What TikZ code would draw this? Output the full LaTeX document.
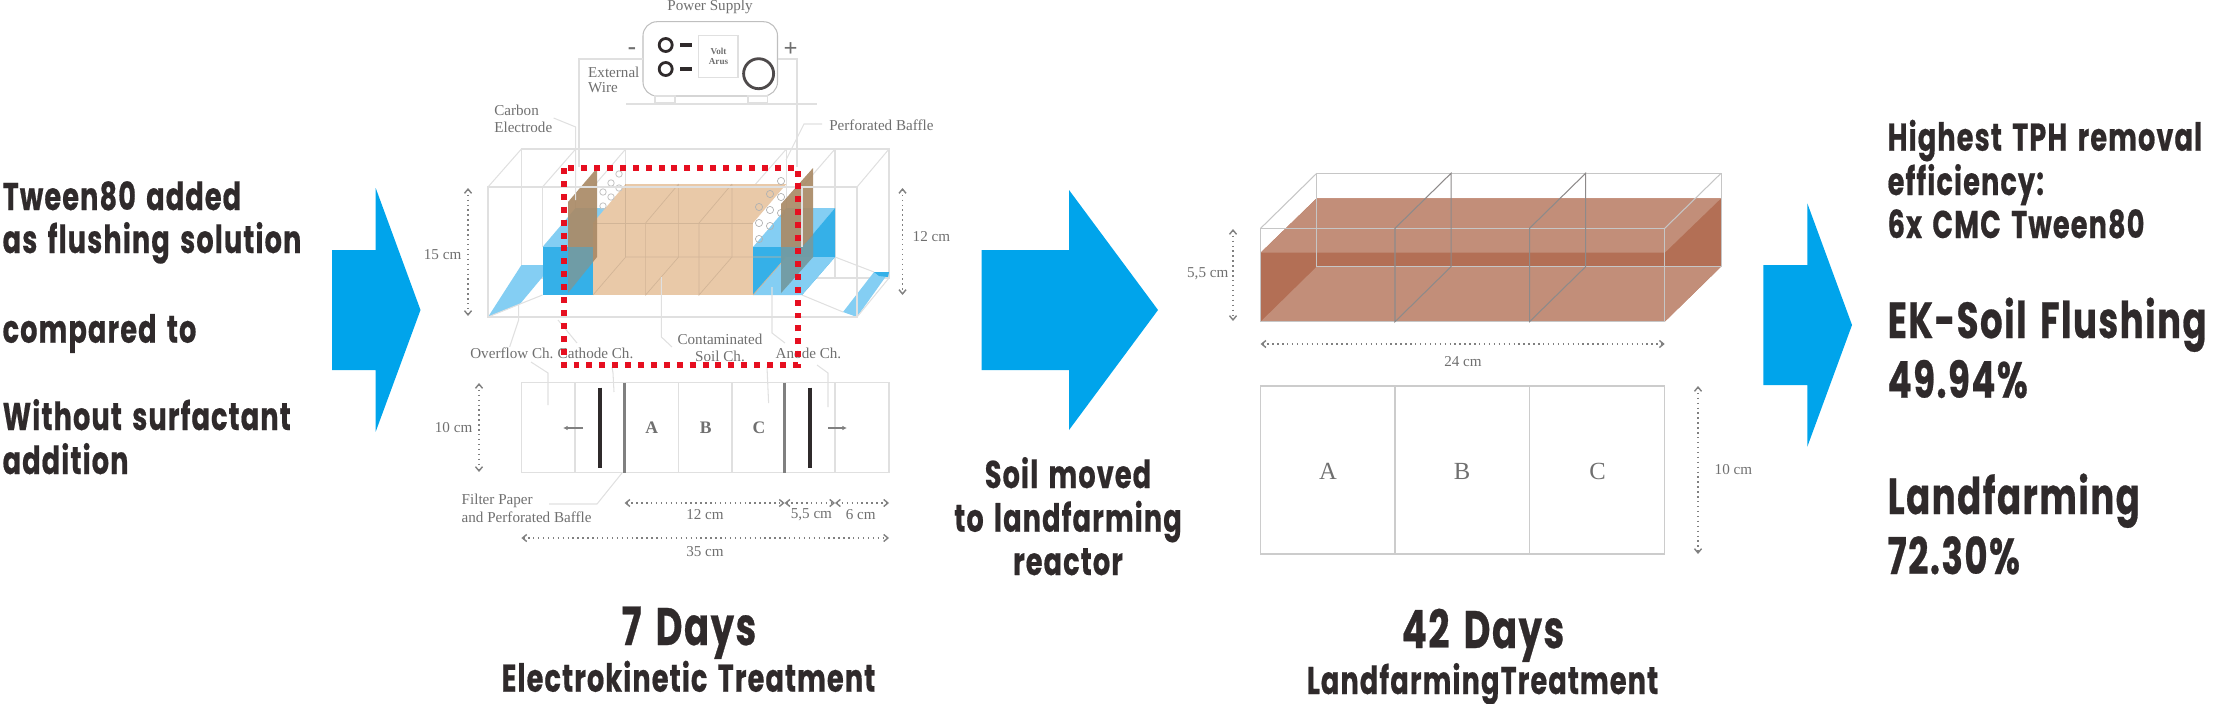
\documentclass[tikz,border=0pt]{standalone}
\usepackage{fontspec}
\usepackage{xcolor}
\usetikzlibrary{arrows.meta,positioning,calc}
\setmainfont{Liberation Serif}
\newfontfamily\headfont[FakeStretch=0.7,LetterSpace=3,FakeBold=0.5,WordSpace=1.5]{Poppins}
\definecolor{arrowblue}{HTML}{00A4EB}
\definecolor{inkdark}{HTML}{2F2A2B}
\definecolor{waterdeep}{HTML}{35B0E8}
\definecolor{waterpale}{HTML}{84CEF3}
\definecolor{soiltan}{HTML}{E9C9A8}
\definecolor{baffletan}{HTML}{A98A66}
\definecolor{mudpale}{HTML}{C28E79}
\definecolor{muddeep}{HTML}{B36F55}
\definecolor{labelgray}{HTML}{6F6F6F}
\definecolor{frameline}{HTML}{E0E0E0}
\definecolor{dotred}{HTML}{E60F20}
\tikzset{
  headtext/.style={anchor=base west,text=inkdark,inner sep=0pt,font=\headfont\bfseries\fontsize{11}{13}\selectfont},
  bigtext/.style={headtext,font=\headfont\bfseries\fontsize{14.4}{16}\selectfont},
  daytext/.style={headtext,anchor=base,font=\headfont\bfseries\fontsize{15}{16}\selectfont},
  smalllabel/.style={text=labelgray,inner sep=0pt,font=\fontsize{4.3}{5}\selectfont},
  letterlabel/.style={text=labelgray,inner sep=0pt,font=\fontsize{7}{8}\selectfont},
  planletter/.style={letterlabel,font=\bfseries\fontsize{5}{6}\selectfont},
  frame/.style={draw=frameline,line width=0.3pt},
  leader/.style={draw=frameline,line width=0.3pt},
  dimline/.style={draw=gray,densely dotted,line width=0.4pt,{Straight Barb[length=1.2pt,width=2pt]}-{Straight Barb[length=1.2pt,width=2pt]}},
  bigarrow/.style={fill=arrowblue,draw=none}
}
\begin{document}
\begin{tikzpicture}[x=0.01cm,y=-0.01cm]
\useasboundingbox (0,0) rectangle (2213,703);
% blue arrows
\fill[bigarrow] (332,250)--(375.7,250)--(375.7,188)--(420.5,310)--(375.7,431.7)--(375.7,370)--(332,370)--cycle;
\fill[bigarrow] (981.7,250)--(1069,250)--(1069,190)--(1158,310)--(1069,430)--(1069,370)--(981.7,370)--cycle;
\fill[bigarrow] (1763.3,265)--(1807.3,265)--(1807.3,203.3)--(1852,325)--(1807.3,446.7)--(1807.3,385)--(1763.3,385)--cycle;
% left text
\node[headtext] (flush1) at (2,210) {Tween80 added};
\node[headtext] (flush2) at (2,253) {as flushing solution};
\node[headtext] (comp) at (2,342.7) {compared to};
\node[headtext] (without1) at (2,430) {Without surfactant};
\node[headtext] (without2) at (2,474) {addition};
% power supply
\draw[frame,draw=gray!50,rounded corners=4] (643,21.7) rectangle (777.5,96);
\draw[frame] (655,96) rectangle (675,103);
\draw[frame] (748,96) rectangle (767.5,103);
\draw[frame] (626,104)--(817,104);
\draw[frame] (698.6,35.7) rectangle (738,77.7);
\foreach \y in {45,69} {
  \draw[inkdark,line width=0.8pt] (665.7,\y) circle[radius=6.5];
  \draw[inkdark,line width=1.1pt] (680,\y)--(692,\y);
}
\draw[inkdark!85,line width=0.8pt] (758.6,73.7) circle[radius=15];
\node[smalllabel,font=\bfseries\fontsize{2.6}{3}\selectfont] (volt) at (718.5,51) {Volt};
\node[smalllabel,font=\bfseries\fontsize{2.6}{3}\selectfont] (amps) at (718.5,62) {Arus};
\node[text=labelgray,font=\fontsize{7}{8}\bfseries\selectfont,inner sep=0pt] (minus) at (632,51) {-};
\node[text=labelgray,font=\fontsize{7}{8}\bfseries\selectfont,inner sep=0pt] (plus) at (790.7,49.5) {+};
\node[smalllabel] (supply) at (710,7) {Power Supply};
\node[smalllabel,anchor=west] (wire1) at (587.5,72) {External};
\node[smalllabel,anchor=west] (wire2) at (587.5,88) {Wire};
\draw[leader] (643,59)--(579,59)--(579,167);
\draw[leader] (777.5,59)--(797,59)--(797,167);
% reactor outline behind the water
\draw[frame] (521.4,149) rectangle (889,278);
\foreach \xb/\xf in {575.7/542.5,625.7/593,786.4/753,835/802} {
  \draw[frame] (\xb,149)--(\xb,278);
  \draw[frame] (\xb,149)--(\xf,187);
}
% overflow troughs
\fill[waterpale] (488,317)--(521.4,265)--(552.5,265)--(520,304)--cycle;
\fill[waterpale] (843,312)--(874,272)--(889,272)--(857,317)--cycle;
\fill[waterdeep] (874,272)--(889,272)--(888,277)--(879,276)--cycle;
\draw[frame] (488,317)--(520,304)--(542.5,295);
\draw[frame] (802,295)--(843,312);
\draw[frame] (835,257)--(874,272);
% water
\fill[waterpale] (542.5,247)--(575.7,208)--(625.7,208)--(593,247)--cycle;
\fill[waterdeep] (542.5,247) rectangle (593,295);
\fill[waterpale] (753,247)--(786.4,208)--(835,208)--(802,247)--cycle;
\fill[waterdeep] (802,247)--(835,208)--(835,257)--(802,295)--cycle;
\fill[waterdeep] (753,247) rectangle (802,295);
\fill[waterpale] (753,295)--(786.4,257)--(835,257)--(802,295)--cycle;
% soil block
\fill[soiltan] (593,223)--(625.7,184)--(786.4,184)--(753,223)--cycle;
\fill[soiltan] (593,223) rectangle (753,295);
\draw[soiltan!90!black,line width=0.2pt] (593,295)--(625.7,257)--(786.4,257)--(753,295);
\draw[soiltan!90!black,line width=0.2pt] (625.7,184)--(625.7,257);
\draw[soiltan!90!black,line width=0.2pt] (593,223)--(753,223);
\foreach \xb/\xf in {678.6/645.6,732/699} {
  \draw[soiltan!90!black,line width=0.2pt] (\xb,184)--(\xb,257)--(\xf,295)--(\xf,223)--(\xb,184);
}
% perforated baffles
\foreach \xo/\yo in {0/0,8/-9,16/-18,0/14,8/5,16/-4} {
  \draw[gray!45,line width=0.25pt] (603+\xo,192+\yo) circle[radius=3.2];
}
\foreach \i in {0,1,2} {
  \foreach \j in {0,1,2} {
    \draw[gray!60,line width=0.2pt] (759+11*\i,207+16*\j-13*\i) circle[radius=3.6];
  }
}
% electrodes
\fill[baffletan,opacity=0.92] (568,202)--(597,168)--(597,257)--(568,293)--cycle;
\fill[baffletan,opacity=0.92] (781,204)--(813,168)--(813,257)--(781,293)--cycle;
\fill[waterdeep,opacity=0.45] (568,247) rectangle (593,293);
\fill[waterdeep,opacity=0.45] (781,247)--(802,247)--(813,235)--(813,257)--(781,293)--cycle;
% reactor outline in front
\draw[frame] (488,187) rectangle (857,317);
\draw[frame] (488,187)--(521.4,149);
\draw[frame] (857,187)--(889,149);
\draw[frame] (857,317)--(889,278);
\draw[frame] (542.5,187)--(542.5,247);
\draw[frame] (802,187)--(802,247);
% labels round the reactor
\node[smalllabel,anchor=west] (carbon1) at (493.6,110) {Carbon};
\node[smalllabel,anchor=west] (carbon2) at (493.6,127) {Electrode};
\draw[leader] (553.6,118)--(575.7,127)--(575.7,200);
\node[smalllabel,anchor=west] (baffle) at (828.6,125) {Perforated Baffle};
\draw[leader] (822,124)--(804,124)--(786,160);
\node[smalllabel,anchor=west] (overflow) at (469.6,353) {Overflow Ch.};
\node[smalllabel,anchor=west] (cathode) at (557,353) {Cathode Ch.};
\node[smalllabel] (contam1) at (720,339) {Contaminated};
\node[smalllabel] (contam2) at (720,356) {Soil Ch.};
\node[smalllabel,anchor=west] (anode) at (775,353) {Anode Ch.};
\draw[leader] (518.6,304)--(518.6,320)--(509.6,347);
\draw[leader] (558,320)--(577,343);
\draw[leader] (661.4,277)--(661.4,337)--(672,347);
\draw[leader] (772,287)--(772,333)--(785,343);
\draw[dimline] (468,188)--(468,316);
\node[smalllabel,anchor=east] (high15) at (462,255) {15 cm};
\draw[dimline] (902.5,188)--(902.5,295);
\node[smalllabel,anchor=west] (high12) at (912,237) {12 cm};
% plan of the reactor
\draw[frame] (521.4,382.7) rectangle (889,472.7);
\foreach \x in {575,678.6,732,835} {\draw[frame] (\x,382.7)--(\x,472.7);}
\foreach \x in {624.6,784.6} {\draw[gray,line width=0.9pt] (\x,382.7)--(\x,472.7);}
\foreach \x in {600,810} {\draw[inkdark,line width=1.3pt] (\x,387.7)--(\x,468);}
\node[planletter] (planA) at (651.8,428) {A};
\node[planletter] (planB) at (705.7,428) {B};
\node[planletter] (planC) at (759,428) {C};
\draw[gray,line width=0.35pt,-{Latex[length=1.3pt,width=1.3pt]}] (583,428)--(563,428);
\draw[gray,line width=0.35pt,-{Latex[length=1.3pt,width=1.3pt]}] (828,428)--(847,428);
\draw[leader] (531,362)--(548,373)--(548,405);
\draw[leader] (612,367)--(613,373)--(614,392);
\draw[leader] (767,367)--(768.6,403);
\draw[leader] (817,365)--(828,373)--(828,407);
\draw[dimline] (479,383)--(479,472);
\node[smalllabel,anchor=east] (wide10) at (473,428) {10 cm};
\node[smalllabel,anchor=west] (paper1) at (461,501) {Filter Paper};
\node[smalllabel,anchor=west] (paper2) at (461,517) {and Perforated Baffle};
\draw[leader] (549,504)--(597,504)--(622,473);
\draw[dimline] (624.6,503)--(784.6,503);
\draw[dimline] (784.6,503)--(835,503);
\draw[dimline] (835,503)--(889,503);
\draw[dimline] (521.4,538)--(889,538);
\node[smalllabel] (len12) at (705,515) {12 cm};
\node[smalllabel] (len55) at (811.4,515) {5,5 cm};
\node[smalllabel] (len6) at (860.7,515) {6 cm};
\node[smalllabel] (len35) at (705,552) {35 cm};
% red dotted window
\draw[dotred,line width=1.7pt,dash pattern=on 1.7pt off 1.97pt] (564,168) rectangle (798,365);
% middle text
\node[headtext,anchor=base] (moved1) at (1068,488) {Soil moved};
\node[headtext,anchor=base] (moved2) at (1068,531.7) {to landfarming};
\node[headtext,anchor=base] (moved3) at (1068,575) {reactor};
% landfarming reactor
\fill[muddeep] (1260.6,252.7)--(1316.7,198.3)--(1721,198.3)--(1721,266.7)--(1664.7,321.7)--(1260.6,321.7)--cycle;
\fill[mudpale] (1260.6,252.7)--(1316.7,198.3)--(1721,198.3)--(1664.7,252.7)--cycle;
\fill[mudpale] (1260.6,321.7)--(1316.7,266.7)--(1721,266.7)--(1664.7,321.7)--cycle;
\draw[frame,draw=gray!45] (1316.7,173.3) rectangle (1721,266.7);
\draw[frame,draw=gray!45] (1260.6,228.3) rectangle (1664.7,321.7);
\draw[frame,draw=gray!45] (1260.6,228.3)--(1316.7,173.3);
\draw[frame,draw=gray!45] (1664.7,228.3)--(1721,173.3);
\foreach \xb/\xf in {1451/1395,1585.6/1529.5} {
  \draw[inkdark!55,line width=0.3pt] (\xf,321.7)--(\xf,228.3)--(\xb,173.3)--(\xb,266.7)--cycle;
}
\draw[dimline] (1233,229)--(1233,321);
\node[smalllabel,anchor=east] (deep55) at (1229,274) {5,5 cm};
\draw[dimline] (1260.6,344)--(1664.7,344);
\node[smalllabel] (len24) at (1463,362) {24 cm};
\draw[frame,draw=gray!40] (1260.6,386) rectangle (1664.7,554);
\foreach \x in {1395,1529.5} {\draw[frame,draw=gray!40] (\x,386)--(\x,554);}
\node[letterlabel] (landA) at (1328,471.7) {A};
\node[letterlabel] (landB) at (1462,471.7) {B};
\node[letterlabel] (landC) at (1597.5,471.7) {C};
\draw[dimline] (1698,386)--(1698,554);
\node[smalllabel,anchor=west] (wide10b) at (1714,470) {10 cm};
% durations
\node[daytext] (days7) at (689,645) {7 Days};
\node[headtext,anchor=base] (ektreat) at (688.5,691.7) {Electrokinetic Treatment};
\node[daytext] (days42) at (1483,648) {42 Days};
\node[headtext,anchor=base] (lftreat) at (1482.5,694) {LandfarmingTreatment};
% right text
\node[headtext] (high1) at (1887,150.7) {Highest TPH removal};
\node[headtext] (high2) at (1887,195) {efficiency:};
\node[headtext] (high3) at (1887,238) {6x CMC Tween80};
\node[bigtext] (ekname) at (1887,338) {EK-Soil Flushing};
\node[bigtext] (ekval) at (1887,397.7) {49.94\%};
\node[bigtext] (lfname) at (1887,514) {Landfarming};
\node[bigtext] (lfval) at (1887,574) {72.30\%};
\end{tikzpicture}
\end{document}
